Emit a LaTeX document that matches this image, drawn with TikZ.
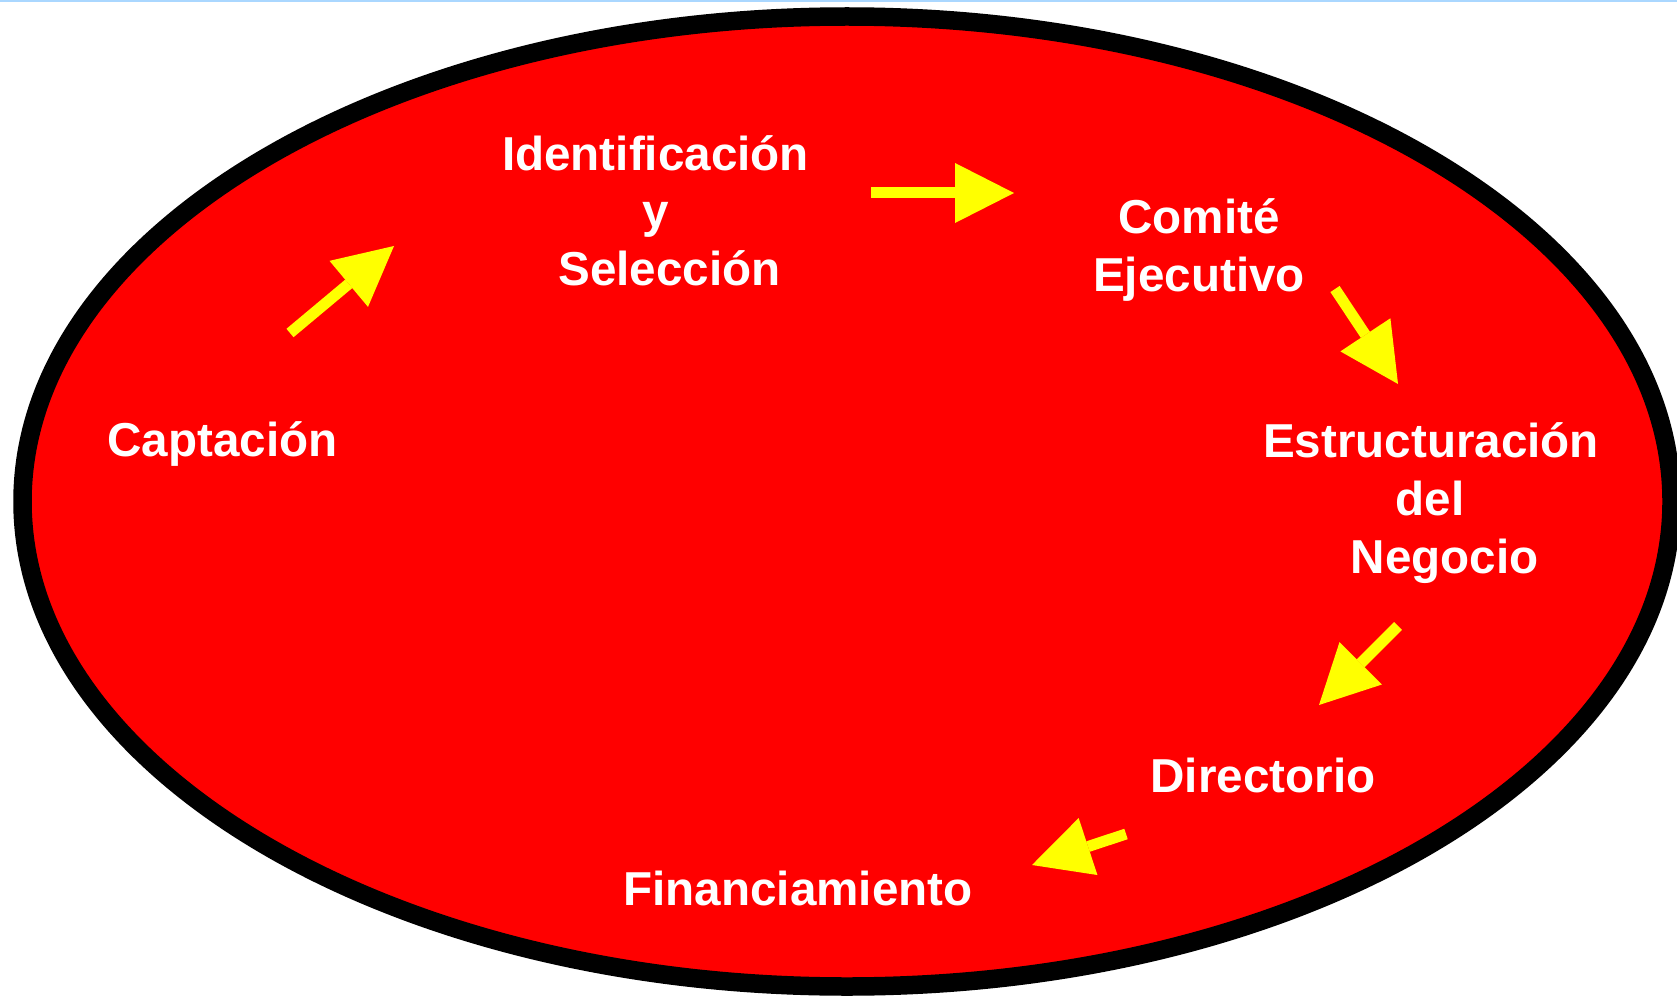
\documentclass[tikz,border=0pt]{standalone}
\usepackage{fontspec}
\setmainfont{Liberation Sans}
\usetikzlibrary{arrows.meta}
\definecolor{topline}{RGB}{170,215,255}
\definecolor{pred}{RGB}{255,0,0}
\definecolor{pyellow}{RGB}{255,255,0}
\tikzset{
  lbl/.style={anchor=base, inner sep=0pt, text=white, font=\fontsize{47.6}{56}\selectfont\bfseries},
  flow/.style={draw=pyellow, line width=11pt, line cap=butt,
    -{Triangle[length=59pt,width=60pt,line width=0pt,fill=pyellow]}}
}
\begin{document}
\begin{tikzpicture}[x=1pt,y=-1pt]
\useasboundingbox (0,0) rectangle (1677,1000);
\clip (0,0) rectangle (1677,1000);
\fill[white] (0,0) rectangle (1677,1000);
\fill[topline] (0,0) rectangle (1677,1.6);
\draw[line width=18.5pt, fill=pred] (847,501.5) ellipse [x radius=824.5, y radius=485];

\node[lbl] (ident1) at (655.5,170.5) {Identificación};
\node[lbl] (ident2) at (656,228) {y};
\node[lbl] (ident3) at (669.5,285.5) {Selección};
\node[lbl] (comite1) at (1199,233.5) {Comité};
\node[lbl] (comite2) at (1199,291) {Ejecutivo};
\node[lbl] (capt) at (222.5,456.5) {Captación};
\node[lbl] (estr1) at (1431,457.5) {Estructuración};
\node[lbl] (estr2) at (1430,515.5) {del};
\node[lbl] (estr3) at (1444.5,573.5) {Negocio};
\node[lbl] (dir) at (1263,792.5) {Directorio};
\node[lbl] (fin) at (798,905.5) {Financiamiento};

\coordinate (a1s) at (290,333);  \coordinate (a1e) at (394,246);
\coordinate (a2s) at (871,193);  \coordinate (a2e) at (1014,193);
\coordinate (a3s) at (1335,289); \coordinate (a3e) at (1398,384);
\coordinate (a4s) at (1398,626); \coordinate (a4e) at (1319,705);
\coordinate (a5s) at (1126,834); \coordinate (a5e) at (1032,865);

\draw[flow] (a1s) -- (a1e);
\draw[flow] (a2s) -- (a2e);
\draw[flow] (a3s) -- (a3e);
\draw[flow] (a4s) -- (a4e);
\draw[flow] (a5s) -- (a5e);
\end{tikzpicture}
\end{document}
